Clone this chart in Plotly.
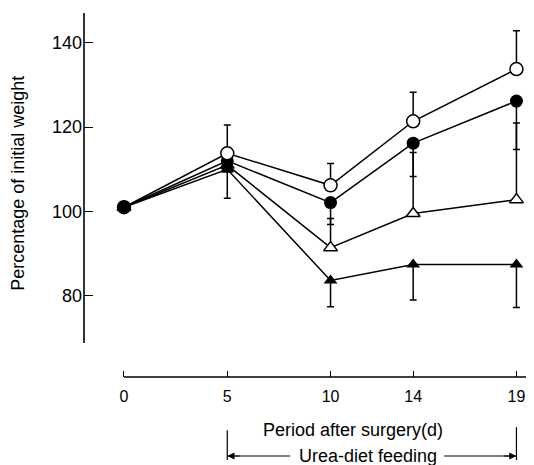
import plotly.graph_objects as go

days = [0, 5, 10, 14, 19]
open_circle = [101, 113.8, 106.2, 121.4, 133.8]
open_circle_err_up = [0, 6.7, 5.2, 6.9, 9.1]
filled_circle = [101, 112.0, 102.1, 116.2, 126.2]
filled_circle_err_down = [0, 0, 5.2, 7.9, 11.5]
open_triangle = [101, 111.0, 91.4, 99.5, 102.8]
open_triangle_err_up = [0, 0, 6.9, 14.5, 18.2]
filled_triangle = [101, 110.0, 83.6, 87.4, 87.4]
filled_triangle_err_down = [0, 0, 6.2, 8.4, 10.2]
square_day = [5]
square_val = [110.5]
square_err_down = [7.4]

x_ticks = [0, 5, 10, 14, 19]
y_ticks = [80, 100, 120, 140]

FONT = "Liberation Sans, Arial, Helvetica, sans-serif"
BLACK = "black"

def err(up=None, down=None):
    n = 5
    return dict(type="data", symmetric=False,
                array=up if up else [0]*n,
                arrayminus=down if down else [0]*n,
                color=BLACK, thickness=1.5, width=3.5)

fig = go.Figure()

fig.add_trace(go.Scatter(x=days, y=filled_triangle, mode="lines+markers",
                         line=dict(color=BLACK, width=1.5),
                         marker=dict(symbol="triangle-up", size=12, color=BLACK),
                         error_y=err(down=filled_triangle_err_down), cliponaxis=False))
fig.add_trace(go.Scatter(x=days, y=open_triangle, mode="lines+markers",
                         line=dict(color=BLACK, width=1.5),
                         marker=dict(symbol="triangle-up", size=12, color="white",
                                     line=dict(color=BLACK, width=1.5)),
                         error_y=err(up=open_triangle_err_up), cliponaxis=False))
fig.add_trace(go.Scatter(x=days, y=filled_circle, mode="lines+markers",
                         line=dict(color=BLACK, width=1.5),
                         marker=dict(symbol="circle", size=13, color=BLACK),
                         error_y=err(down=filled_circle_err_down), cliponaxis=False))
fig.add_trace(go.Scatter(x=square_day, y=square_val, mode="markers",
                         marker=dict(symbol="square", size=11, color=BLACK),
                         error_y=dict(type="data", symmetric=False, array=[0],
                                      arrayminus=square_err_down, color=BLACK,
                                      thickness=1.5, width=3.5), cliponaxis=False))
fig.add_trace(go.Scatter(x=days, y=open_circle, mode="lines+markers",
                         line=dict(color=BLACK, width=1.5),
                         marker=dict(symbol="circle", size=13, color="white",
                                     line=dict(color=BLACK, width=1.5)),
                         error_y=err(up=open_circle_err_up), cliponaxis=False))
fig.add_trace(go.Scatter(x=days[:1], y=filled_circle[:1], mode="markers",
                         marker=dict(symbol="circle", size=13, color=BLACK), cliponaxis=False))

XMIN, XMAX = -1.936, 19.85
YMIN, YMAX = 60.7, 147.1

fig.update_layout(
    width=526, height=457,
    margin=dict(l=76, r=0, t=5, b=88),
    paper_bgcolor="white", plot_bgcolor="white",
    showlegend=False,
    font=dict(family=FONT, color=BLACK, size=14),
    xaxis=dict(range=[XMIN, XMAX], tickvals=x_ticks, ticktext=[str(t) for t in x_ticks],
               ticks="inside", ticklen=6, tickwidth=1.2, tickcolor=BLACK,
               showgrid=False, zeroline=False, showline=False, automargin=False,
               ticklabelstandoff=8, ticklabeloverflow="allow",
               tickfont=dict(size=16, family=FONT)),
    yaxis=dict(range=[YMIN, YMAX], tickvals=y_ticks, ticktext=[str(t) for t in y_ticks],
               ticks="inside", ticklen=9, tickwidth=1.2, tickcolor=BLACK,
               showgrid=False, zeroline=False, showline=False, automargin=False,
               ticklabelstandoff=1, tickfont=dict(size=18, family=FONT)),
)

shapes = [
    dict(type="line", xref="paper", yref="y", x0=0, x1=0, y0=68.8, y1=YMAX,
         line=dict(color=BLACK, width=1.6)),
    dict(type="line", xref="x", yref="paper", x0=0, x1=XMAX, y0=0, y1=0,
         line=dict(color=BLACK, width=1.4)),
    dict(type="line", xref="x", yref="paper", x0=5, x1=5, y0=-0.146, y1=-0.228,
         line=dict(color=BLACK, width=1.2)),
    dict(type="line", xref="x", yref="paper", x0=19, x1=19, y0=-0.138, y1=-0.228,
         line=dict(color=BLACK, width=1.2)),
    dict(type="line", xref="x", yref="paper", x0=5, x1=8.05, y0=-0.217, y1=-0.217,
         line=dict(color=BLACK, width=1.2)),
    dict(type="line", xref="x", yref="paper", x0=15.5, x1=19, y0=-0.217, y1=-0.217,
         line=dict(color=BLACK, width=1.2)),
]
fig.update_layout(shapes=shapes)

fig.add_annotation(text="Percentage of initial weight", xref="paper", yref="paper",
                   x=-0.147, y=0.533, textangle=-90, showarrow=False,
                   xanchor="center", yanchor="middle", font=dict(size=18))
fig.add_annotation(text="Period after surgery(d)", xref="x", yref="paper",
                   x=11.1, y=-0.146, showarrow=False, xanchor="center", yanchor="middle",
                   font=dict(size=18))
fig.add_annotation(text="Urea-diet feeding", xref="x", yref="paper",
                   x=11.8, y=-0.217, showarrow=False, xanchor="center", yanchor="middle",
                   font=dict(size=18))
fig.add_annotation(x=5, y=-0.217, xref="x", yref="paper", ax=14, ay=0, text="",
                   showarrow=True, arrowhead=2, arrowsize=1.2, arrowwidth=1.2,
                   arrowcolor=BLACK, standoff=0)
fig.add_annotation(x=19, y=-0.217, xref="x", yref="paper", ax=-14, ay=0, text="",
                   showarrow=True, arrowhead=2, arrowsize=1.2, arrowwidth=1.2,
                   arrowcolor=BLACK, standoff=0)

fig.write_html("out.html")
